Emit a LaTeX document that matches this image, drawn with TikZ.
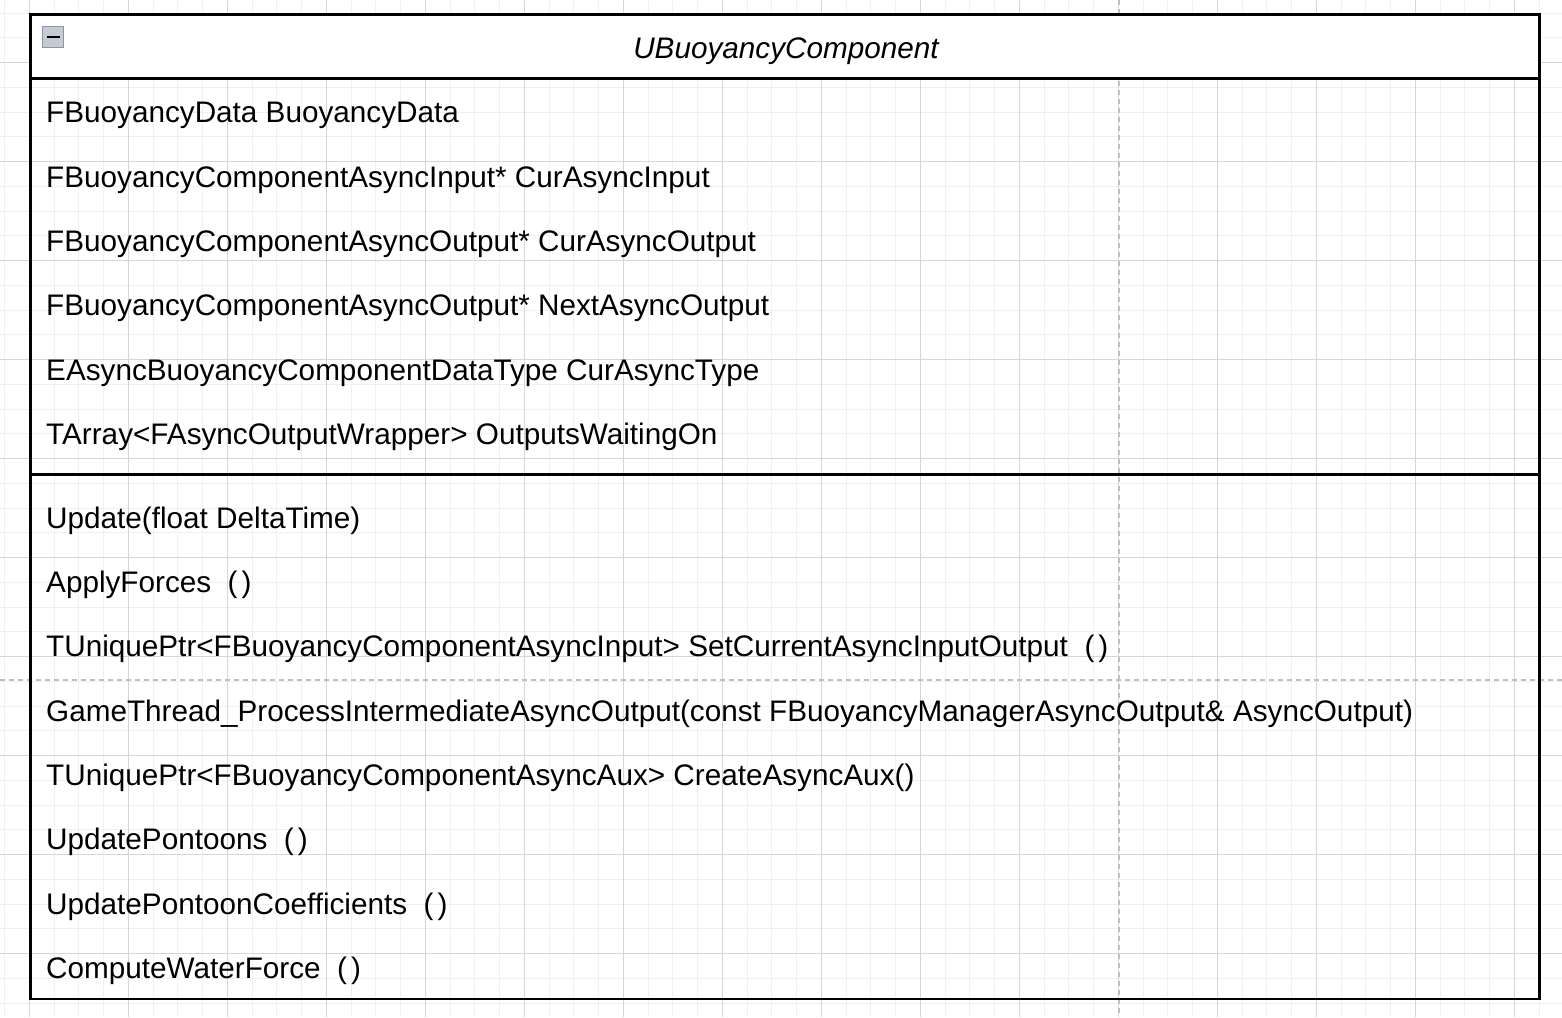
\documentclass[tikz,border=0pt]{standalone}
\usepackage{fontspec}
\setmainfont{Liberation Sans}
\definecolor{toggleedge}{HTML}{8C94A6}
\definecolor{togglefill}{HTML}{C6CAD4}
\begin{document}
\begin{tikzpicture}[x=1pt,y=-1pt,
  gridminor/.style={draw=black!6,line width=1pt},
  gridmajor/.style={draw=black!16,line width=1pt},
  pageline/.style={draw=black!25,line width=1.2pt,dash pattern=on 5pt off 4pt},
  classbox/.style={draw=black,line width=2.5pt},
  member/.style={anchor=base west,inner sep=0pt,font=\fontsize{29.7}{36}\selectfont},
  title/.style={anchor=base,inner sep=0pt,font=\fontsize{29.7}{36}\selectfont\itshape}]
\useasboundingbox (0,0) rectangle (1562,1017);
\fill[white] (0,0) rectangle (1562,1017);
% background grid
\foreach \i in {0,...,63} \draw[gridminor] (4.55+\i*24.75,0) -- (4.55+\i*24.75,1017);
\foreach \i in {0,...,41} \draw[gridminor] (0,13.2+\i*24.75) -- (1562,13.2+\i*24.75);
\foreach \i in {0,...,15} \draw[gridmajor] (29.3+\i*99,0) -- (29.3+\i*99,1017);
\foreach \i in {0,...,9} \draw[gridmajor] (0,62.7+\i*99) -- (1562,62.7+\i*99);
% page break lines
\draw[pageline] (1119,0) -- (1119,1017);
\draw[pageline] (0,680) -- (1562,680);
% class box
\coordinate (tl) at (30.5,14.5);
\coordinate (br) at (1539.5,999);
\fill[white] (30.5,14.5) rectangle (1539.5,78.3);
\draw[classbox] (tl) rectangle (br);
\draw[classbox] (30.5,78.3) -- (1539.5,78.3);
\draw[classbox] (30.5,474.3) -- (1539.5,474.3);
% collapse toggle
\node[draw=toggleedge,fill=togglefill,line width=1.8pt,minimum size=21pt,inner sep=0pt] (toggle) at (53,37) {};
\draw[line width=2.4pt] (47,37) -- (59.5,37);
% title
\node[title] (cls) at (786,58.2) {UBuoyancyComponent};
% attributes
\node[member] (a1) at (46,122.8) {FBuoyancyData BuoyancyData};
\node[member] (a2) at (46,187.15) {FBuoyancyComponentAsyncInput* CurAsyncInput};
\node[member] (a3) at (46,251.5) {FBuoyancyComponentAsyncOutput* CurAsyncOutput};
\node[member] (a4) at (46,315.85) {FBuoyancyComponentAsyncOutput* NextAsyncOutput};
\node[member] (a5) at (46,380.2) {EAsyncBuoyancyComponentDataType CurAsyncType};
\node[member] (a6) at (46,444.55) {TArray<FAsyncOutputWrapper> OutputsWaitingOn};
% operations
\node[member] (m1) at (46,528.2) {Update(float DeltaTime)};
\node[member] (m2) at (46,592.55) {ApplyForces\ \ (\kern4pt)};
\node[member] (m3) at (46,656.9) {TUniquePtr<FBuoyancyComponentAsyncInput> SetCurrentAsyncInputOutput\ \ (\kern4pt)};
\node[member] (m4) at (46,721.25) {GameThread\_ProcessIntermediateAsyncOutput(const FBuoyancyManagerAsyncOutput\& AsyncOutput)};
\node[member] (m5) at (46,785.6) {TUniquePtr<FBuoyancyComponentAsyncAux> CreateAsyncAux()};
\node[member] (m6) at (46,849.95) {UpdatePontoons\ \ (\kern4pt)};
\node[member] (m7) at (46,914.3) {UpdatePontoonCoefficients\ \ (\kern4pt)};
\node[member] (m8) at (46,978.65) {ComputeWaterForce\ \ (\kern4pt)};
\end{tikzpicture}
\end{document}
